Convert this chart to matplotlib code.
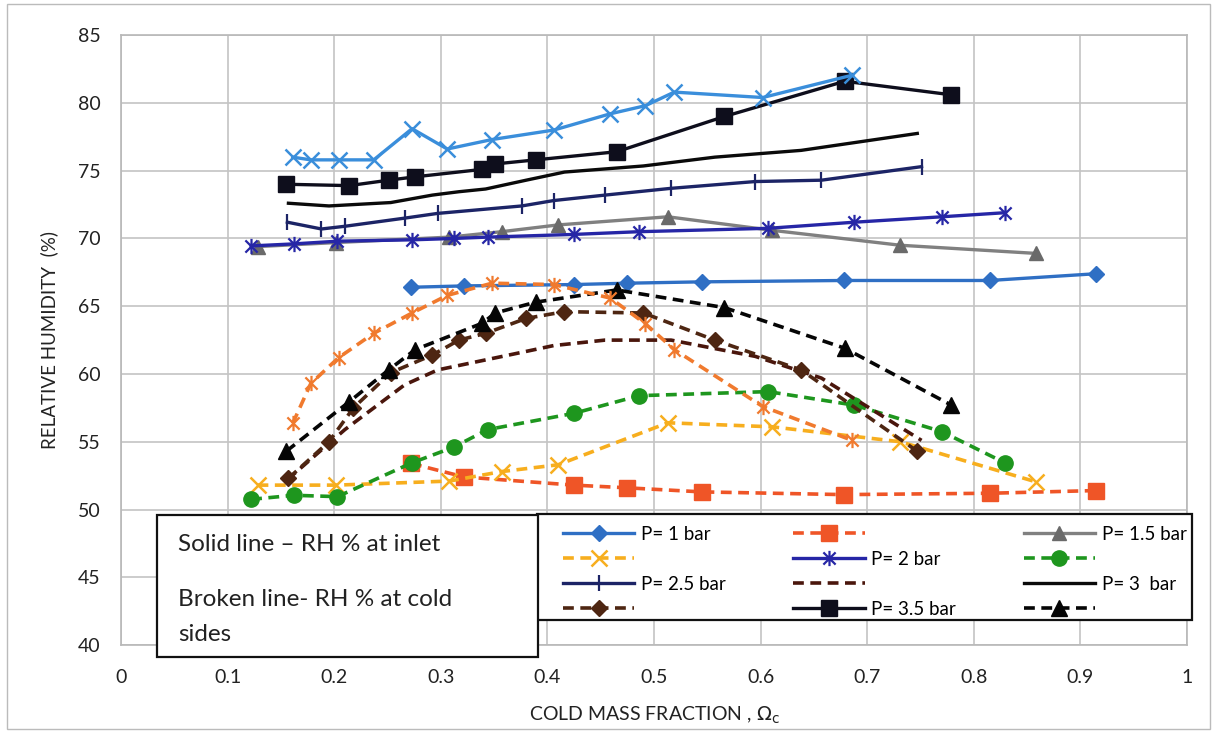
import matplotlib
matplotlib.use("Agg")
import matplotlib.pyplot as plt
from matplotlib.patches import Rectangle
from matplotlib.path import Path

plt.rcParams['font.family'] = ['Lato', 'DejaVu Sans']

# cold mass fraction and relative humidity (inlet = solid, cold side = dashed)
x_p1 = [0.272, 0.322, 0.425, 0.475, 0.545, 0.678, 0.815, 0.915]
rh_p1_in = [66.4, 66.5, 66.6, 66.7, 66.8, 66.9, 66.9, 67.4]
rh_p1_cold = [53.4, 52.4, 51.8, 51.6, 51.3, 51.1, 51.2, 51.4]

x_p15 = [0.128, 0.202, 0.308, 0.357, 0.41, 0.513, 0.611, 0.731, 0.858]
rh_p15_in = [69.4, 69.7, 70.1, 70.5, 71.0, 71.6, 70.6, 69.5, 68.9]
rh_p15_cold = [51.8, 51.8, 52.1, 52.8, 53.3, 56.4, 56.1, 55.0, 52.05]

x_p2 = [0.122, 0.162, 0.203, 0.273, 0.312, 0.344, 0.425, 0.486, 0.607, 0.688, 0.77, 0.829]
rh_p2_in = [69.45, 69.6, 69.8, 69.9, 70.0, 70.1, 70.3, 70.5, 70.75, 71.2, 71.6, 71.9]
rh_p2_cold = [50.75, 51.05, 50.95, 53.45, 54.6, 55.9, 57.1, 58.4, 58.7, 57.7, 55.75, 53.45]

x_p25 = [0.156, 0.188, 0.21, 0.266, 0.297, 0.376, 0.406, 0.454, 0.516, 0.595, 0.657, 0.751]
rh_p25_in = [71.2, 70.7, 70.9, 71.5, 71.85, 72.4, 72.8, 73.2, 73.7, 74.2, 74.3, 75.3]
rh_p25_cold = [52.2, 54.4, 55.9, 59.2, 60.3, 61.6, 62.1, 62.5, 62.5, 61.3, 59.7, 55.1]

x_p3 = [0.157, 0.195, 0.218, 0.253, 0.292, 0.317, 0.342, 0.38, 0.416, 0.49, 0.557, 0.638, 0.747]
rh_p3_in = [72.6, 72.4, 72.5, 72.65, 73.2, 73.45, 73.65, 74.3, 74.9, 75.35, 76.0, 76.5, 77.75]
rh_p3_cold = [52.3, 55.0, 57.5, 60.1, 61.4, 62.5, 63.0, 64.1, 64.6, 64.5, 62.5, 60.3, 54.3]

x_p35 = [0.155, 0.214, 0.251, 0.276, 0.339, 0.351, 0.389, 0.465, 0.566, 0.679, 0.779]
rh_p35_in = [74.0, 73.9, 74.3, 74.55, 75.1, 75.5, 75.8, 76.4, 79.0, 81.6, 80.6]
rh_p35_cold = [54.3, 57.95, 60.3, 61.8, 63.75, 64.5, 65.3, 66.2, 64.9, 61.9, 57.7]

# extra pair of curves that is not in the legend
x_p4 = [0.161, 0.178, 0.204, 0.237, 0.273, 0.306, 0.348, 0.406, 0.459, 0.492, 0.519, 0.602, 0.686]
rh_p4_in = [76.0, 75.8, 75.8, 75.8, 78.1, 76.6, 77.3, 78.0, 79.2, 79.8, 80.8, 80.4, 82.05]
rh_p4_cold = [56.35, 59.3, 61.2, 63.0, 64.5, 65.8, 66.7, 66.6, 65.6, 63.7, 61.8, 57.6, 55.1]

labels = ["P= 1 bar", "", "P= 1.5 bar", "", "P= 2 bar", "", "P= 2.5 bar", "",
          "P= 3  bar", "", "P= 3.5 bar", ""]

# excel style star marker: X plus vertical bar
star = Path([(-1, -1), (1, 1), (-1, 1), (1, -1), (0, -1.25), (0, 1.25)],
            [Path.MOVETO, Path.LINETO, Path.MOVETO, Path.LINETO, Path.MOVETO, Path.LINETO])

fig = plt.figure(figsize=(12.17, 7.33), dpi=100)
ax = fig.add_axes([0.0995, 0.12, 0.8758, 0.832])

dash = (3, 1.8)
sw = 2.4
dw = 2.6

h = []
h += ax.plot(x_p1, rh_p1_in, color='#2F6FC4', lw=sw, marker='D', ms=8, zorder=3)
h += ax.plot(x_p1, rh_p1_cold, color='#EF5527', lw=dw, dashes=dash, marker='s', ms=11, zorder=3)
h += ax.plot(x_p15, rh_p15_in, color='#808080', lw=sw, marker='^', ms=10, mfc='#6A6A6A', mec='#6A6A6A', zorder=3)
h += ax.plot(x_p15, rh_p15_cold, color='#F7AE1E', lw=dw, dashes=dash, marker='x', ms=11, mew=1.8, zorder=3)
h += ax.plot(x_p2, rh_p2_in, color='#2626A6', lw=sw, marker=star, ms=11, mew=1.6, zorder=3)
h += ax.plot(x_p2, rh_p2_cold, color='#1E961E', lw=dw, dashes=dash, marker='o', ms=11, zorder=3)
h += ax.plot(x_p25, rh_p25_in, color='#1C2466', lw=sw, marker='|', ms=12, mew=1.6, zorder=3)
h += ax.plot(x_p25, rh_p25_cold, color='#4A160C', lw=dw, dashes=dash, zorder=3)
h += ax.plot(x_p3, rh_p3_in, color='#0A0A0A', lw=sw, zorder=3)
h += ax.plot(x_p3, rh_p3_cold, color='#4E2612', lw=dw, dashes=dash, marker='D', ms=8.5, zorder=3)
h += ax.plot(x_p35, rh_p35_in, color='#0E0E1C', lw=sw, marker='s', ms=12, zorder=3)
h += ax.plot(x_p35, rh_p35_cold, color='#050505', lw=dw, dashes=dash, marker='^', ms=11, zorder=3)

ax.plot(x_p4, rh_p4_in, color='#3A8EDB', lw=sw, marker='x', ms=12, mew=1.8, zorder=3)
ax.plot(x_p4, rh_p4_cold, color='#F07A2E', lw=dw, dashes=dash, marker=star, ms=11, mew=1.6, zorder=3)

ax.set_xlim(0, 1)
ax.set_ylim(40, 85)
ax.set_xticks([i / 10 for i in range(11)])
ax.set_xticklabels(["0", "0.1", "0.2", "0.3", "0.4", "0.5", "0.6", "0.7", "0.8", "0.9", "1"])
ax.set_yticks(range(40, 90, 5))
ax.tick_params(length=0, labelsize=14, colors='#222222')
ax.tick_params(axis='y', pad=15)
ax.tick_params(axis='x', pad=17)
ax.grid(True, color='#C4C4C4', lw=1.2)
ax.set_axisbelow(True)
for s in ax.spines.values():
    s.set_color('#B8B8B8')
    s.set_linewidth(1.2)

ax.set_xlabel(r"COLD MASS FRACTION , $\Omega_\mathrm{c}$", fontsize=14, labelpad=14, color='#222222')
ax.set_ylabel("RELATIVE HUMIDITY  (%)", fontsize=13.5, labelpad=14, color='#222222')

# legend frame drawn separately so the entries can sit inset
ax.add_patch(Rectangle((0.390, 0.041), 0.6147, 0.1738, transform=ax.transAxes, clip_on=False,
                       facecolor='white', edgecolor='#111111', lw=1.6, zorder=5))
order = [0, 3, 6, 9, 1, 4, 7, 10, 2, 5, 8, 11]
leg = ax.legend([h[i] for i in order], [labels[i] for i in order], ncol=3,
                loc='center', bbox_to_anchor=(0.4146, 0.042, 0.585, 0.156),
                mode='expand', fontsize=13.5, handlelength=3.8, labelspacing=0.42,
                handletextpad=0.35, borderpad=0, frameon=False, borderaxespad=0)
leg.set_zorder(6)

# note box
fig.patches.append(Rectangle((0.129, 0.104), 0.3133, 0.193, transform=fig.transFigure,
                             facecolor='white', edgecolor='#111111', lw=1.6, zorder=7))
fig.text(0.1463, 0.2565, "Solid line \u2013 RH % at inlet", fontsize=17.5, va='center', zorder=8, color='#222222')
fig.text(0.1463, 0.1815, "Broken line- RH % at cold", fontsize=17.5, va='center', zorder=8, color='#222222')
fig.text(0.1463, 0.1350, "sides", fontsize=17.5, va='center', zorder=8, color='#222222')

# outer frame
fig.patches.append(Rectangle((0.006, 0.006), 0.988, 0.988, transform=fig.transFigure,
                             facecolor='none', edgecolor='#BBBBBB', lw=1.0, zorder=0))

fig.savefig("out.png", dpi=100)
